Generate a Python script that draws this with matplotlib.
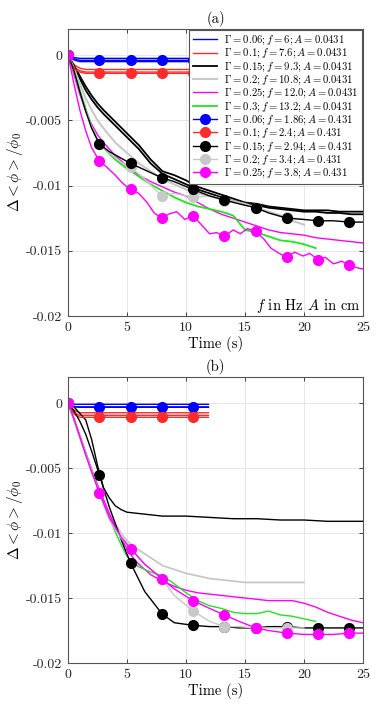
import matplotlib
matplotlib.use('Agg')
import matplotlib.pyplot as plt

plt.rcParams['font.family'] = ['cmr10', 'DejaVu Serif']
plt.rcParams['mathtext.fontset'] = 'cm'
plt.rcParams['axes.unicode_minus'] = False

# ---------------- data : panel (a) ----------------
MK_T = [0, 2.65, 5.3, 7.95, 10.6, 13.25, 15.9, 18.55, 21.2, 23.85]

a_t_flat = [0, 0.3, 0.6, 1, 1.5, 2, 2.65, 5.3, 7.95, 10.6, 12]
a_blue_1 = [0, -0.0001, -0.0002, -0.00025, -0.00025, -0.00025, -0.00025, -0.00025, -0.00025, -0.00025, -0.00025]
a_blue_2 = [0, -0.0003, -0.0004, -0.0005, -0.0005, -0.0005, -0.0005, -0.0005, -0.0005, -0.0005, -0.0005]
a_blue_m = [0, -0.0002, -0.0003, -0.0004, -0.0004, -0.0004, -0.0004, -0.0004, -0.0004, -0.0004, -0.0004]
a_red_1 = [0, -0.0005, -0.0008, -0.001, -0.0011, -0.0011, -0.0011, -0.0011, -0.0011, -0.0011, -0.0011]
a_red_2 = [0, -0.0006, -0.001, -0.0012, -0.0013, -0.0013, -0.0013, -0.0013, -0.0013, -0.0013, -0.0013]
a_red_m = [0, -0.0007, -0.0011, -0.0013, -0.0014, -0.0014, -0.0014, -0.0014, -0.0014, -0.0014, -0.0014]

a_t = [0, 0.5, 1, 1.5, 2, 2.5, 3, 4, 5, 6, 7, 8, 9, 10, 11, 12, 13, 14, 15,
       16, 17, 18, 19, 20, 21, 22, 23, 24, 25]
a_black_1 = [0, -0.0008, -0.0016, -0.0024, -0.0031, -0.0037, -0.0042, -0.0051, -0.006,
             -0.0069, -0.008, -0.0089, -0.0092, -0.0096, -0.0101, -0.0104, -0.0107, -0.011,
             -0.0113, -0.0114, -0.0116, -0.0117, -0.0118, -0.0119, -0.0119, -0.0119, -0.012,
             -0.012, -0.012]
a_black_2 = [0, -0.0009, -0.0018, -0.0027, -0.0034, -0.004, -0.0045, -0.0054, -0.0063,
             -0.0072, -0.0083, -0.0091, -0.0095, -0.0099, -0.0103, -0.0106, -0.0109, -0.0112,
             -0.0114, -0.0115, -0.0117, -0.0118, -0.0119, -0.012, -0.012, -0.0121, -0.0121,
             -0.0122, -0.0122]
a_magenta = [0, -0.0015, -0.003, -0.0043, -0.0053, -0.0061, -0.0067, -0.0077, -0.0085,
             -0.0092, -0.0097, -0.0101, -0.0105, -0.0108, -0.0113, -0.0118, -0.0122, -0.0125,
             -0.0128, -0.0131, -0.0134, -0.0136, -0.0137, -0.0138, -0.014, -0.0141, -0.0142,
             -0.0143, -0.0144]

a_t_grey = a_t[:24]
a_grey = [0, -0.001, -0.0022, -0.0033, -0.0042, -0.005, -0.0056, -0.0067, -0.0075, -0.0083,
          -0.0089, -0.0095, -0.0099, -0.0103, -0.0106, -0.0108, -0.011, -0.0112, -0.0114,
          -0.0117, -0.012, -0.0123, -0.0127, -0.013]
a_t_green = a_t[:25]
a_green = [0, -0.0012, -0.0027, -0.0041, -0.0055, -0.0065, -0.0071, -0.008, -0.0087,
           -0.0093, -0.0099, -0.0104, -0.0109, -0.0113, -0.0116, -0.0118, -0.012, -0.0123,
           -0.0134, -0.0136, -0.0139, -0.0142, -0.0143, -0.0145, -0.0148]

a_t_mk = [0, 0.5, 1, 1.5, 2, 2.65, 3.5, 4.5, 5.3, 6.5, 7.95, 9, 10.6, 12, 13.25, 14.5,
          15.9, 17, 18.55, 20, 21.2, 22.5, 23.85, 25]
a_black_m = [0, -0.0012, -0.0028, -0.0043, -0.0056, -0.0068, -0.0074, -0.0079, -0.0083,
             -0.0088, -0.0094, -0.0097, -0.0103, -0.0108, -0.0111, -0.0114, -0.0117, -0.0121,
             -0.0125, -0.0126, -0.0127, -0.0127, -0.0128, -0.0128]
a_grey_m = [0, -0.0013, -0.0028, -0.0042, -0.0055, -0.0068, -0.0075, -0.0082, -0.0086,
            -0.0095, -0.0108, -0.0106, -0.0109, -0.0108, -0.0112, -0.0114, -0.0117, -0.012,
            -0.0124, -0.0126]

a_t_mag = [0, 0.5, 1, 1.5, 2, 2.65, 3.3, 4, 4.6, 5.3, 6, 6.7, 7.3, 7.95, 8.5, 9.2, 9.9,
           10.6, 11.3, 12, 12.6, 13.25, 14, 14.6, 15.2, 15.9, 16.6, 17.2, 17.9, 18.55,
           19.2, 19.9, 20.5, 21.2, 21.8, 22.5, 23.2, 23.85, 24.5, 25]
a_magenta_m = [0, -0.0022, -0.0042, -0.0058, -0.0071, -0.0081, -0.0086, -0.0092, -0.0098,
               -0.0103, -0.0106, -0.0113, -0.0121, -0.0125, -0.0122, -0.012, -0.0126,
               -0.0123, -0.013, -0.0137, -0.0136, -0.0139, -0.0134, -0.0137, -0.0133,
               -0.0135, -0.0141, -0.0148, -0.0152, -0.0155, -0.0151, -0.0154, -0.0152,
               -0.0157, -0.0155, -0.016, -0.0158, -0.0161, -0.0163, -0.0164]

# ---------------- data : panel (b) ----------------
b_t_flat = [0, 0.3, 0.6, 1, 1.5, 2, 2.65, 5.3, 7.95, 10.6, 11.9]
b_blue_1 = [0, -0.00005, -0.0001, -0.0001, -0.0001, -0.0001, -0.0001, -0.0001, -0.0001, -0.0001, -0.0001]
b_blue_2 = [0, -0.0002, -0.0003, -0.00033, -0.00033, -0.00033, -0.00033, -0.00033, -0.00033, -0.00033, -0.00033]
b_blue_m = [0, -0.0002, -0.00028, -0.0003, -0.0003, -0.0003, -0.0003, -0.0003, -0.0003, -0.0003, -0.0003]
b_red_1 = [0, -0.0004, -0.0006, -0.00075, -0.00075, -0.00075, -0.00075, -0.00075, -0.00075, -0.00075, -0.00075]
b_red_2 = [0, -0.0005, -0.0008, -0.00095, -0.00095, -0.00095, -0.00095, -0.00095, -0.00095, -0.00095, -0.00095]
b_red_m = [0, -0.0006, -0.0009, -0.0011, -0.0011, -0.0011, -0.0011, -0.0011, -0.0011, -0.0011, -0.0011]

b_t_black = [0, 0.5, 1, 1.5, 2, 2.5, 3, 3.5, 4, 4.5, 5, 6, 7, 8, 10, 12, 14, 16, 18, 20, 22, 25]
b_black = [0, -0.0003, -0.0008, -0.0013, -0.0028, -0.0048, -0.0065, -0.0073, -0.0079,
           -0.0082, -0.0084, -0.0085, -0.0086, -0.0087, -0.0087, -0.0088, -0.0089, -0.0089,
           -0.009, -0.009, -0.0091, -0.0091]

b_t = [0, 0.5, 1, 1.5, 2, 2.5, 3, 3.5, 4, 4.5, 5, 5.5, 6, 7, 8, 9, 10, 11, 12, 13, 14,
       15, 16, 17, 18, 19, 20, 21, 22, 23, 24, 25]
b_green = [0, -0.0013, -0.0026, -0.0039, -0.0052, -0.0065, -0.0077, -0.0088, -0.0099,
           -0.0109, -0.0118, -0.0123, -0.0126, -0.013, -0.0133, -0.0139, -0.0146, -0.0152,
           -0.0156, -0.0158, -0.0161, -0.0162, -0.0162, -0.016, -0.0163, -0.0164, -0.0166,
           -0.0168]
b_grey = [0, -0.0013, -0.0026, -0.0039, -0.0052, -0.0064, -0.0075, -0.0085, -0.0093,
          -0.01, -0.0106, -0.011, -0.0113, -0.0119, -0.0125, -0.0128, -0.0131, -0.0133,
          -0.0135, -0.0136, -0.0137, -0.0138, -0.0138, -0.0138, -0.0138, -0.0138, -0.0138]
b_magenta = [0, -0.0012, -0.0025, -0.0038, -0.0051, -0.0063, -0.0074, -0.0085, -0.0095,
             -0.0104, -0.0112, -0.0119, -0.0124, -0.0132, -0.0137, -0.0141, -0.0144, -0.0146,
             -0.0147, -0.0148, -0.0149, -0.015, -0.0151, -0.0152, -0.0152, -0.0152, -0.0154,
             -0.0157, -0.0161, -0.0164, -0.0167, -0.0169]

b_t_mk = [0, 0.5, 1, 1.5, 2, 2.65, 3.5, 4.5, 5.3, 6.5, 7.95, 9, 10.6, 12, 13.25, 14.5,
          15.9, 17, 18.55, 20, 21.2, 22.5, 23.85, 25]
b_black_m = [0, -0.0006, -0.0014, -0.0024, -0.0037, -0.0055, -0.008, -0.0105, -0.0123,
             -0.0145, -0.0162, -0.0169, -0.0171, -0.0172, -0.0172, -0.0173, -0.0173, -0.0172,
             -0.0172, -0.0173, -0.0173, -0.0173, -0.0173, -0.0173]
b_grey_m = [0, -0.0013, -0.0026, -0.0039, -0.0052, -0.0069, -0.009, -0.0104, -0.0112,
            -0.0124, -0.0135, -0.0148, -0.016, -0.0168, -0.0172, -0.0172, -0.0173, -0.0173,
            -0.0173, -0.0173]
b_magenta_m = [0, -0.0012, -0.0026, -0.004, -0.0053, -0.0069, -0.0088, -0.0103, -0.0112,
               -0.0124, -0.0135, -0.0143, -0.0152, -0.0158, -0.0163, -0.0168, -0.0173,
               -0.0175, -0.0177, -0.0178, -0.0178, -0.0178, -0.0177, -0.0177]

labels_line = [r'$\Gamma=0.06;f=6;A=0.0431$', r'$\Gamma=0.1;f=7.6;A=0.0431$',
               r'$\Gamma=0.15;f=9.3;A=0.0431$', r'$\Gamma=0.2;f=10.8;A=0.0431$',
               r'$\Gamma=0.25;f=12.0;A=0.0431$', r'$\Gamma=0.3;f=13.2;A=0.0431$']
labels_mk = [r'$\Gamma=0.06;f=1.86;A=0.431$', r'$\Gamma=0.1;f=2.4;A=0.431$',
             r'$\Gamma=0.15;f=2.94;A=0.431$', r'$\Gamma=0.2;f=3.4;A=0.431$',
             r'$\Gamma=0.25;f=3.8;A=0.431$']

BLUE, RED, BLACK, GREY, MAG, GREEN = '#0000ff', '#ff2a2a', '#000000', '#c8c8c8', '#ff00ff', '#1ee61e'


def mk_idx(tt):
    return [i for i, t in enumerate(tt) if t in MK_T]


def line(ax, t, y, c, label='_nolegend_', lw=1.0):
    ax.plot(t, y, color=c, lw=lw, label=label)


def mline(ax, t, y, c, label='_nolegend_'):
    ax.plot(t, y, color=c, lw=1.0, marker='o', markersize=7, markerfacecolor=c,
            markeredgecolor=c, markevery=mk_idx(t), label=label)


def style(ax, title):
    ax.set_xlim(0, 25)
    ax.set_ylim(-0.02, 0.002)
    ax.set_xticks([0, 5, 10, 15, 20, 25])
    ax.set_xticklabels(['0', '5', '10', '15', '20', '25'])
    ax.set_yticks([-0.02, -0.015, -0.01, -0.005, 0])
    ax.set_yticklabels(['-0.02', '-0.015', '-0.01', '-0.005', '0'])
    ax.tick_params(direction='in', length=3, width=0.6, labelsize=10, pad=4,
                   top=True, right=True, colors='#262626')
    ax.grid(True, color='#e3e3e3', lw=0.6)
    ax.set_axisbelow(True)
    for s in ax.spines.values():
        s.set_color('#555555')
        s.set_linewidth(0.8)
    ax.set_xlabel('Time (s)', fontsize=10.5, labelpad=2)
    ax.set_ylabel(r'$\Delta <\phi>/\phi_0$', fontsize=11)
    ax.yaxis.set_label_coords(-0.145, 0.5)
    ax.set_title(title, fontsize=10.5, pad=4)


fig = plt.figure(figsize=(3.81, 7.04), dpi=100)
ax1 = fig.add_axes([0.1785, 0.5511, 0.7743, 0.4077])
ax2 = fig.add_axes([0.1785, 0.0582, 0.7743, 0.4063])

# panel (a)
line(ax1, a_t_flat, a_blue_1, BLUE, labels_line[0])
line(ax1, a_t_flat, a_blue_2, BLUE)
line(ax1, a_t_flat, a_red_1, RED, labels_line[1])
line(ax1, a_t_flat, a_red_2, RED)
line(ax1, a_t, a_black_1, BLACK, labels_line[2], lw=1.3)
line(ax1, a_t, a_black_2, BLACK, lw=1.3)
line(ax1, a_t_grey, a_grey, GREY, labels_line[3], lw=1.5)
line(ax1, a_t, a_magenta, MAG, labels_line[4])
line(ax1, a_t_green, a_green, GREEN, labels_line[5], lw=1.3)
mline(ax1, a_t_flat, a_blue_m, BLUE, labels_mk[0])
mline(ax1, a_t_flat, a_red_m, RED, labels_mk[1])
mline(ax1, a_t_mk[:20], a_grey_m, GREY, labels_mk[3])
mline(ax1, a_t_mk, a_black_m, BLACK, labels_mk[2])
mline(ax1, a_t_mag, a_magenta_m, MAG, labels_mk[4])
style(ax1, '(a)')
h, l = ax1.get_legend_handles_labels()
order = labels_line + labels_mk
hd = dict(zip(l, h))
leg = ax1.legend([hd[k] for k in order], order, loc='upper right',
                 prop={'family': 'DejaVu Serif', 'size': 7.7}, frameon=True,
                 fancybox=False, framealpha=1, edgecolor='#555555', borderaxespad=0.1,
                 handlelength=2.3, labelspacing=0.0, borderpad=0.35, handletextpad=0.6)
leg.get_frame().set_linewidth(0.8)
ax1.text(0.99, 0.035, r'$f$ in Hz $A$ in cm', transform=ax1.transAxes,
         ha='right', va='center', fontsize=10.5)

# panel (b)
line(ax2, b_t_flat, b_blue_1, BLUE)
line(ax2, b_t_flat, b_blue_2, BLUE)
line(ax2, b_t_flat, b_red_1, RED)
line(ax2, b_t_flat, b_red_2, RED)
line(ax2, b_t_black, b_black, BLACK)
line(ax2, b_t[:27], b_grey, GREY, lw=1.3)
line(ax2, b_t, b_magenta, MAG)
line(ax2, b_t[:28], b_green, GREEN)
mline(ax2, b_t_flat, b_blue_m, BLUE)
mline(ax2, b_t_flat, b_red_m, RED)
mline(ax2, b_t_mk, b_black_m, BLACK)
mline(ax2, b_t_mk[:20], b_grey_m, GREY)
mline(ax2, b_t_mk, b_magenta_m, MAG)
style(ax2, '(b)')

fig.savefig('out.png', dpi=100)
